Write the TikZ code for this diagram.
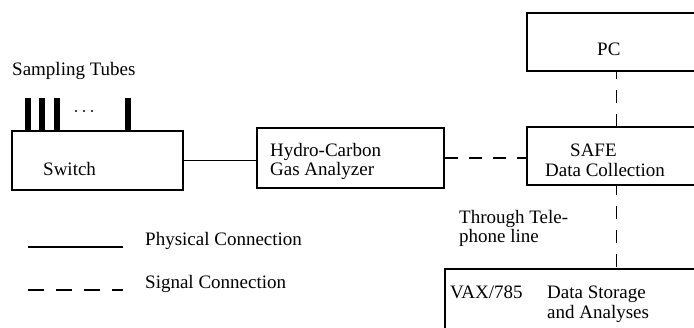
\documentclass[tikz,border=0pt]{standalone}
\usepackage{fontspec}
\setmainfont{Liberation Serif}
\begin{document}
\begin{tikzpicture}[x=1pt,y=-1pt,
  box/.style={draw,line width=1.8pt,rectangle,inner sep=0pt},
  lbl/.style={anchor=base west,inner sep=0pt,font=\fontsize{19}{19}\selectfont},
  phys/.style={line width=1.5pt},
  sig/.style={line width=1.6pt,dash pattern=on 13pt off 11pt},
  tube/.style={line width=5.5pt}]
\useasboundingbox (0,0) rectangle (694,327);
\clip (0,0) rectangle (694,327);
% boxes
\node[box,minimum width=171pt,minimum height=59pt] (sw) at (97.5,160.5) {};
\node[box,minimum width=187pt,minimum height=60pt] (hc) at (350.5,158) {};
\node[box,minimum width=179pt,minimum height=58pt] (safe) at (616.5,156) {};
\node[box,minimum width=179pt,minimum height=58pt] (pc) at (616.5,42) {};
\node[box,minimum width=261pt,minimum height=70pt] (vax) at (575.5,304) {};
% tubes
\coordinate (t1) at (28,98); \coordinate (t2) at (42,98);
\coordinate (t3) at (57,98); \coordinate (t4) at (128,98);
\foreach \t in {t1,t2,t3,t4} \draw[tube] (\t) -- (\t |- sw.north);
\foreach \x in {76,84,92} \fill (\x,111) circle (1.1pt);
% connectors
\draw[phys] (sw.east) -- (sw.east -| hc.west);
\draw[sig] (hc.east) -- (hc.east -| safe.west);
\draw[sig,dash phase=6pt] (pc.south) -- (safe.north);
\draw[sig,dash phase=4pt] (safe.south) -- (safe.south |- vax.north);
% legend
\coordinate (l1a) at (28,247); \coordinate (l1b) at (123,247);
\coordinate (l2a) at (28,290); \coordinate (l2b) at (123,290);
\draw[phys] (l1a) -- (l1b);
\draw[line width=1.8pt,dash pattern=on 16pt off 12pt] (l2a) -- (l2b);
% texts
\node[lbl] (tSamp) at (12,75) {Sampling Tubes};
\node[lbl] (tSw) at (43,175) {Switch};
\node[lbl] (tHc1) at (270,156) {Hydro-Carbon};
\node[lbl] (tHc2) at (270,175) {Gas Analyzer};
\node[lbl] (tPc) at (597,55) {PC};
\node[lbl] (tSafe1) at (570,156) {SAFE};
\node[lbl] (tSafe2) at (545,176) {Data Collection};
\node[lbl] (tTh1) at (459,223) {Through Tele-};
\node[lbl] (tTh2) at (459,242) {phone line};
\node[lbl] (tVax) at (450,298) {VAX/785};
\node[lbl] (tDs1) at (547,298) {Data Storage};
\node[lbl] (tDs2) at (547,318) {and Analyses};
\node[lbl] (tPhys) at (145,245) {Physical Connection};
\node[lbl] (tSig) at (145,288) {Signal Connection};
\end{tikzpicture}
\end{document}
